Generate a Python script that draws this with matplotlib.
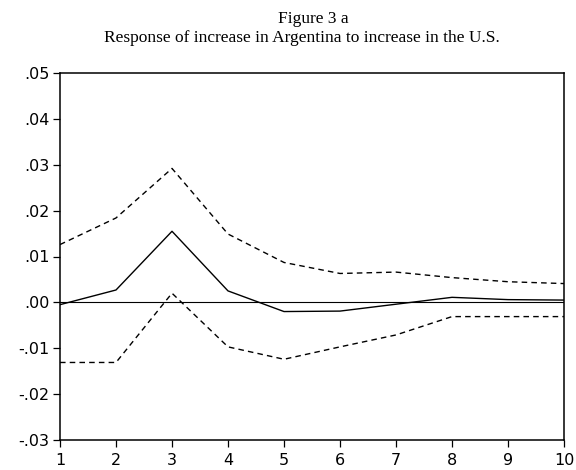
import numpy as np
import matplotlib.pyplot as plt
from matplotlib.ticker import FuncFormatter

# --- data ---
periods = [1, 2, 3, 4, 5, 6, 7, 8, 9, 10]
response = [-0.0005, 0.0027, 0.0155, 0.0025, -0.0020, -0.0019, -0.0004, 0.0011, 0.0006, 0.0005]
upper_band = [0.0126, 0.0184, 0.0292, 0.0149, 0.0087, 0.0063, 0.0066, 0.0054, 0.0045, 0.0041]
lower_band = [-0.0131, -0.0131, 0.0020, -0.0097, -0.0124, -0.0097, -0.0071, -0.0031, -0.0031, -0.0031]
y_ticks = [-0.03, -0.02, -0.01, 0.00, 0.01, 0.02, 0.03, 0.04, 0.05]

title_line1 = "Figure 3 a"
title_line2 = "Response of increase in Argentina to increase in the U.S."

plt.rcParams.update({
    "font.family": "DejaVu Sans",
    "font.size": 11.5,
})


def eviews_fmt(v, pos):
    # EViews style: no leading zero (".05", "-.01")
    s = f"{v:.2f}"
    if s.startswith("-0"):
        s = "-" + s[2:]
    elif s.startswith("0"):
        s = s[1:]
    return s


fig = plt.figure(figsize=(5.76, 4.70), dpi=100)
ax = fig.add_axes([60 / 576, 1 - 440 / 470, 504 / 576, 367 / 470])

ax.axhline(0, color="black", linewidth=0.8)
ax.plot(periods, response, color="black", linewidth=1.0)
ax.plot(periods, upper_band, color="black", linewidth=1.0, linestyle=(0, (4, 3)))
ax.plot(periods, lower_band, color="black", linewidth=1.0, linestyle=(0, (4, 3)))

ax.set_xlim(1, 10)
ax.set_ylim(-0.03, 0.05)
ax.set_xticks(periods)
ax.set_yticks(y_ticks)
ax.yaxis.set_major_formatter(FuncFormatter(eviews_fmt))
ax.tick_params(direction="out", length=5, width=0.9, colors="black")
ax.tick_params(axis="y", pad=2.5)
ax.tick_params(axis="x", pad=4.5)
for sp in ax.spines.values():
    sp.set_linewidth(1.1)

fig.text(313 / 576, 1 - 19 / 470, title_line1, ha="center", va="center",
         family="Liberation Serif", fontsize=12.5)
fig.text(302 / 576, 1 - 38 / 470, title_line2, ha="center", va="center",
         family="Liberation Serif", fontsize=12.5)

fig.savefig("out.png", dpi=100)
